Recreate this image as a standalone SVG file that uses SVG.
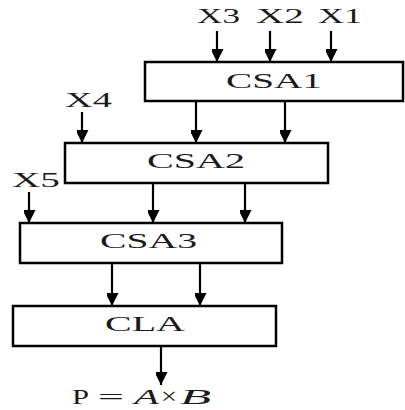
<svg xmlns="http://www.w3.org/2000/svg" width="405" height="410" viewBox="0 0 405 410">
  <defs>
    <marker id="arrow" markerUnits="userSpaceOnUse" markerWidth="14" markerHeight="12" refX="13" refY="6.5" orient="auto">
      <path d="M0,0 L13,6.5 L0,13 Z" fill="#000"/>
    </marker>
    <style>
      .box { fill: #fff; stroke: #000; stroke-width: 2.5; }
      .wire { stroke: #000; stroke-width: 2.2; fill: none; marker-end: url(#arrow); }
      .lbl { font-family: "Liberation Serif", "Times New Roman", serif; font-size: 20px; fill: #1a1a1a; }
      .blk { font-family: "Liberation Serif", "Times New Roman", serif; font-size: 21px; fill: #1a1a1a; }
      .it { font-style: italic; }
    </style>
  </defs>
  <rect width="405" height="410" fill="#fff"/>

  <!-- input labels -->
  <g id="inputs">
    <text class="lbl" x="197" y="23" textLength="43" lengthAdjust="spacingAndGlyphs">X3</text>
    <text class="lbl" x="256" y="23" textLength="48" lengthAdjust="spacingAndGlyphs">X2</text>
    <text class="lbl" x="318" y="23" textLength="44" lengthAdjust="spacingAndGlyphs">X1</text>
    <text class="lbl" x="65" y="107" textLength="47" lengthAdjust="spacingAndGlyphs">X4</text>
    <text class="lbl" x="12" y="187" textLength="48" lengthAdjust="spacingAndGlyphs">X5</text>
  </g>

  <!-- adder stages -->
  <g id="csa1">
    <rect class="box" x="145" y="62" width="258" height="39"/>
    <text class="blk" x="226" y="88" textLength="96" lengthAdjust="spacingAndGlyphs">CSA1</text>
  </g>
  <g id="csa2">
    <rect class="box" x="65" y="143" width="263" height="40"/>
    <text class="blk" x="147" y="168" textLength="98" lengthAdjust="spacingAndGlyphs">CSA2</text>
  </g>
  <g id="csa3">
    <rect class="box" x="20" y="223" width="262" height="40"/>
    <text class="blk" x="100" y="248" textLength="97" lengthAdjust="spacingAndGlyphs">CSA3</text>
  </g>
  <g id="cla">
    <rect class="box" x="13" y="306" width="263" height="40"/>
    <text class="blk" x="105" y="331" textLength="80" lengthAdjust="spacingAndGlyphs">CLA</text>
  </g>

  <!-- product output -->
  <g id="product">
    <text class="lbl" x="72" y="404" textLength="17" lengthAdjust="spacingAndGlyphs">P</text>
    <text class="lbl" x="98" y="404" textLength="26" lengthAdjust="spacingAndGlyphs" style="font-size:22px">=</text>
    <text class="lbl it" x="134" y="404" textLength="25" lengthAdjust="spacingAndGlyphs">A</text>
    <text class="lbl" x="161" y="404" textLength="16" lengthAdjust="spacingAndGlyphs" style="font-size:24px">×</text>
    <text class="lbl it" x="180" y="404" textLength="31" lengthAdjust="spacingAndGlyphs">B</text>
  </g>

  <!-- connectors -->
  <g id="connectors">
    <line class="wire" x1="217" y1="31" x2="217" y2="62"/>
    <line class="wire" x1="270" y1="31" x2="270" y2="62"/>
    <line class="wire" x1="331" y1="31" x2="331" y2="62"/>
    <line class="wire" x1="82" y1="112" x2="82" y2="143"/>
    <line class="wire" x1="196" y1="101" x2="196" y2="143"/>
    <line class="wire" x1="285" y1="101" x2="285" y2="143"/>
    <line class="wire" x1="29" y1="192" x2="29" y2="223"/>
    <line class="wire" x1="153" y1="183" x2="153" y2="223"/>
    <line class="wire" x1="245" y1="183" x2="245" y2="223"/>
    <line class="wire" x1="112" y1="263" x2="112" y2="306"/>
    <line class="wire" x1="200" y1="263" x2="200" y2="306"/>
    <line class="wire" x1="161" y1="346" x2="161" y2="385"/>
  </g>
</svg>
